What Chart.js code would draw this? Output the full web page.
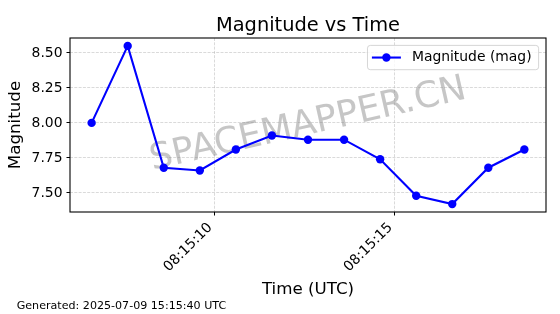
<!DOCTYPE html>
<html>
<head>
<meta charset="utf-8">
<script src="https://cdn.jsdelivr.net/npm/chart.js@4.4.1/dist/chart.umd.min.js"></script>
<style>
  html, body { margin: 0; padding: 0; background: #ffffff; }
  #wrap { width: 560px; height: 314px; position: relative; }
</style>
</head>
<body>
<div id="wrap"><canvas id="c" width="560" height="314"></canvas></div>
<script>
// ---- data ----
const timeLabels = ['08:15:06.6', '08:15:07.6', '08:15:08.6', '08:15:09.6', '08:15:10.6', '08:15:11.6', '08:15:12.6',
                    '08:15:13.6', '08:15:14.6', '08:15:15.6', '08:15:16.6', '08:15:17.6', '08:15:18.6'];
const magnitudes = [8.00, 8.55, 7.68, 7.66, 7.81, 7.91, 7.88, 7.88, 7.74, 7.48, 7.42, 7.68, 7.81];
const yTicks = [7.50, 7.75, 8.00, 8.25, 8.50];
const xTickLabels = ['08:15:10', '08:15:15'];
const seriesName = 'Magnitude (mag)';
const chartTitle = 'Magnitude vs Time';
const xTitle = 'Time (UTC)';
const yTitle = 'Magnitude';
const watermark = 'SPACEMAPPER.CN';
const footer = 'Generated: 2025-07-09 15:15:40 UTC';

// ---- helpers ----
function toSec(s) {
  const p = s.split(':');
  return (+p[0]) * 3600 + (+p[1]) * 60 + parseFloat(p[2]);
}
function fmtSec(v) {
  const t = Math.round(v);
  const h = Math.floor(t / 3600), m = Math.floor((t % 3600) / 60), s = t % 60;
  const z = n => String(n).padStart(2, '0');
  return z(h) + ':' + z(m) + ':' + z(s);
}
const xs = timeLabels.map(toSec);
const points = xs.map((x, i) => ({ x: x, y: magnitudes[i] }));
const xMinD = Math.min(...xs), xMaxD = Math.max(...xs);
const yMinD = Math.min(...magnitudes), yMaxD = Math.max(...magnitudes);
const xPad = (xMaxD - xMinD) * 0.05, yPad = (yMaxD - yMinD) * 0.05;
const xTickVals = xTickLabels.map(toSec);

const FONT = '"DejaVu Sans", sans-serif';

const overlay = {
  id: 'overlay',
  beforeDatasetsDraw(chart) {
    const ctx = chart.ctx, ca = chart.chartArea;
    ctx.save();
    ctx.beginPath();
    ctx.rect(ca.left, ca.top, ca.right - ca.left, ca.bottom - ca.top);
    ctx.clip();
    ctx.translate((ca.left + ca.right) / 2, (ca.top + ca.bottom) / 2);
    ctx.rotate(-12.8 * Math.PI / 180);
    ctx.font = '36px ' + FONT;
    ctx.fillStyle = 'rgba(128,128,128,0.45)';
    ctx.textAlign = 'center';
    ctx.textBaseline = 'middle';
    ctx.fillText(watermark, 0, 0);
    ctx.restore();
  },
  afterDraw(chart) {
    const ctx = chart.ctx, ca = chart.chartArea;
    ctx.save();
    // frame
    ctx.strokeStyle = '#000';
    ctx.lineWidth = 1.1;
    ctx.strokeRect(ca.left, ca.top, ca.right - ca.left, ca.bottom - ca.top);

    // legend
    ctx.font = '13.9px ' + FONT;
    const tw = ctx.measureText(seriesName).width;
    const boxRight = ca.right - 7.4;
    const textRight = boxRight - 7;
    const textLeft = textRight - tw;
    const lineEnd = textLeft - 11;
    const lineStart = lineEnd - 29;
    const boxLeft = lineStart - 4.4;
    const boxTop = ca.top + 7.4;
    const boxH = 24.3;
    ctx.beginPath();
    ctx.roundRect(boxLeft, boxTop, boxRight - boxLeft, boxH, 2.8);
    ctx.fillStyle = 'rgba(255,255,255,0.8)';
    ctx.fill();
    ctx.strokeStyle = 'rgba(204,204,204,0.8)';
    ctx.lineWidth = 1;
    ctx.stroke();
    const ly = boxTop + boxH / 2;
    ctx.beginPath();
    ctx.moveTo(lineStart, ly);
    ctx.lineTo(lineEnd, ly);
    ctx.strokeStyle = '#0000ff';
    ctx.lineWidth = 2.1;
    ctx.stroke();
    ctx.beginPath();
    ctx.arc((lineStart + lineEnd) / 2, ly, 4.2, 0, Math.PI * 2);
    ctx.fillStyle = '#0000ff';
    ctx.fill();
    ctx.fillStyle = '#000';
    ctx.textAlign = 'left';
    ctx.textBaseline = 'middle';
    ctx.fillText(seriesName, textLeft, ly);

    // title
    const cx = (ca.left + ca.right) / 2;
    ctx.textAlign = 'center';
    ctx.textBaseline = 'alphabetic';
    ctx.font = '19.4px ' + FONT;
    ctx.fillText(chartTitle, cx, 31);
    // x title
    ctx.font = '16.7px ' + FONT;
    ctx.fillText(xTitle, cx, 294);
    // y title
    ctx.save();
    ctx.translate(20, (ca.top + ca.bottom) / 2);
    ctx.rotate(-Math.PI / 2);
    ctx.fillText(yTitle, 0, 0);
    ctx.restore();
    // footer
    ctx.font = '11.1px ' + FONT;
    ctx.textAlign = 'left';
    ctx.fillText(footer, 16.7, 309);
    ctx.restore();
  }
};

new Chart(document.getElementById('c'), {
  type: 'line',
  data: {
    datasets: [{
      label: seriesName,
      data: points,
      borderColor: '#0000ff',
      backgroundColor: '#0000ff',
      borderWidth: 2.1,
      pointRadius: 4.2,
      pointHoverRadius: 4.2,
      pointBorderWidth: 0,
      pointBackgroundColor: '#0000ff',
      tension: 0,
      fill: false,
      clip: false
    }]
  },
  options: {
    responsive: false,
    animation: false,
    events: [],
    layout: { padding: { left: 0, right: 14, top: 38, bottom: 0 } },
    plugins: {
      legend: { display: false },
      title: { display: false },
      tooltip: { enabled: false }
    },
    scales: {
      x: {
        type: 'linear',
        min: xMinD - xPad,
        max: xMaxD + xPad,
        afterBuildTicks: s => { s.ticks = xTickVals.map(v => ({ value: v })); },
        afterFit: s => { s.height = 102; },
        ticks: {
          callback: v => fmtSec(v),
          minRotation: 45,
          maxRotation: 45,
          autoSkip: false,
          padding: 4,
          labelOffset: -4,
          color: '#000',
          font: { family: FONT, size: 13.9 }
        },
        grid: {
          color: 'rgba(176,176,176,0.6)',
          lineWidth: 0.8,
          tickColor: '#000',
          tickLength: 3.5,
          tickWidth: 1,
          tickBorderDash: []
        },
        border: { display: false, dash: [3, 1.3] }
      },
      y: {
        type: 'linear',
        min: yMinD - yPad,
        max: yMaxD + yPad,
        afterBuildTicks: s => { s.ticks = yTicks.map(v => ({ value: v })); },
        afterFit: s => { s.width = 70; },
        ticks: {
          callback: v => Number(v).toFixed(2),
          padding: 4,
          color: '#000',
          font: { family: FONT, size: 13.9 }
        },
        grid: {
          color: 'rgba(176,176,176,0.6)',
          lineWidth: 0.8,
          tickColor: '#000',
          tickLength: 3.5,
          tickWidth: 1,
          tickBorderDash: []
        },
        border: { display: false, dash: [3, 1.3] }
      }
    }
  },
  plugins: [overlay]
});
</script>
</body>
</html>
